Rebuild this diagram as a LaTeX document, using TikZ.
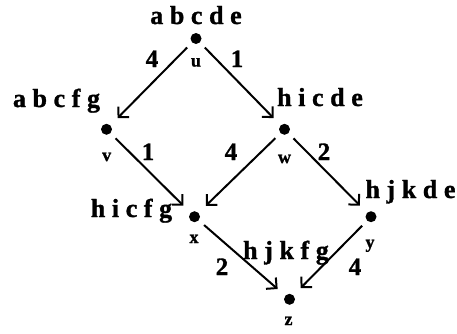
\documentclass[tikz,border=0pt]{standalone}
\usepackage{fontspec}
\setmainfont{Liberation Serif}
\newfontfamily\heavyfont{Liberation Serif Bold}[FakeBold=1.2]
\usetikzlibrary{arrows.meta}
\tikzset{
  dot/.style={circle,fill=black,inner sep=0pt,minimum size=11pt},
  bigtxt/.style={anchor=base,inner sep=0pt,font={\heavyfont\fontsize{26}{28}\selectfont\spaceskip=6.6pt\relax}},
  wt/.style={anchor=base,inner sep=0pt,font={\heavyfont\fontsize{25}{27}\selectfont}},
  nm/.style={anchor=base,inner sep=0pt,font={\heavyfont\fontsize{18}{20}\selectfont}},
  edge/.style={line width=2pt,-{Straight Barb[length=7.5pt,width=15pt,line width=2pt]},shorten <=7pt,shorten >=10pt}
}
\begin{document}
\begin{tikzpicture}[x=1pt,y=-1pt]
\useasboundingbox (0,0) rectangle (457,333);
\node[dot] (u) at (196,38.5) {};
\node[dot] (v) at (106.5,129.3) {};
\node[dot] (w) at (284.5,129.3) {};
\node[dot] (x) at (194.5,216.7) {};
\node[dot] (y) at (371,216.7) {};
\node[dot] (z) at (289.5,299.3) {};
\node[bigtxt] (lu) at (196,24) {a b c d e};
\node[bigtxt] (lv) at (56.5,107) {a b c f g};
\node[bigtxt] (lw) at (320,106) {h i c d e};
\node[bigtxt] (ly) at (410.5,198) {h j k d e};
\node[bigtxt] (lx) at (131.5,217) {h i c f g};
\node[bigtxt] (lz) at (286,259) {h j k f g};
\node[nm] (nu) at (196,66.5) {u};
\node[nm] (nv) at (106.7,161) {v};
\node[nm] (nw) at (284.5,163) {w};
\node[nm] (nx) at (194,243) {x};
\node[nm] (ny) at (370,248) {y};
\node[nm] (nz) at (288.5,325) {z};
\draw[edge] (u) -- (v);
\draw[edge] (u) -- (w);
\draw[edge] (v) -- (x);
\draw[edge] (w) -- (x);
\draw[edge] (w) -- (y);
\draw[edge] (x) -- (z);
\draw[edge] (y) -- (z);
\node[wt] (e1) at (152,67) {4};
\node[wt] (e2) at (237,67) {1};
\node[wt] (e3) at (148,160) {1};
\node[wt] (e4) at (231,160) {4};
\node[wt] (e5) at (324,160) {2};
\node[wt] (e6) at (222,275) {2};
\node[wt] (e7) at (355,275) {4};
\end{tikzpicture}
\end{document}
